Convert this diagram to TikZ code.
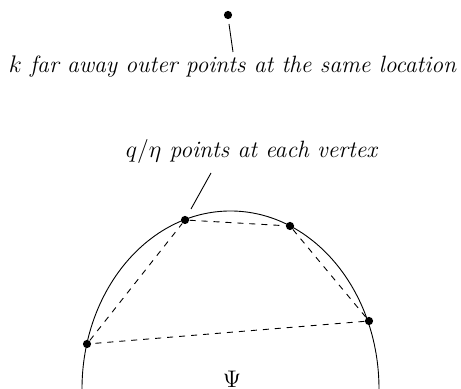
\documentclass[tikz,border=0pt]{standalone}
\begin{document}
\begin{tikzpicture}[x=0.5pt,y=0.5pt,
  every node/.style={font=\fontsize{11.8}{14}\selectfont},
  dot/.style={circle,fill=black,inner sep=0pt,minimum size=4.1pt},
  lbl/.style={inner sep=0pt,font=\fontsize{11.8}{14}\selectfont\itshape},
  chord/.style={dashed},
  every path/.style={line width=0.45pt}]
\useasboundingbox (0,0) rectangle (461,389);
% ellipse arc
\coordinate (c) at (230.5,0);
\draw (c) ++(180:148.5 and 178) arc[start angle=180,end angle=0,x radius=148.5,y radius=178];
% far away points
\node[dot] (far) at (228,374) {};
\node[lbl] (t1) at (232.5,322) {$k$ far away outer points at the same location};
\coordinate (l1a) at (229,365);
\coordinate (l1b) at (233,337);
\draw (l1a) -- (l1b);
% vertices
\node[dot] (A) at (185,169) {};
\node[dot] (B) at (290,163) {};
\node[dot] (C) at (369,68) {};
\node[dot] (D) at (87,45) {};
\draw[chord] (A) -- (B) -- (C) -- (D) -- (A);
\node[lbl] (t2) at (251.5,237) {$q/\eta$ points at each vertex};
\coordinate (l2a) at (211,216);
\coordinate (l2b) at (191,180);
\draw (l2a) -- (l2b);
\node[inner sep=0pt] (psi) at (232,10) {$\Psi$};
\end{tikzpicture}
\end{document}
